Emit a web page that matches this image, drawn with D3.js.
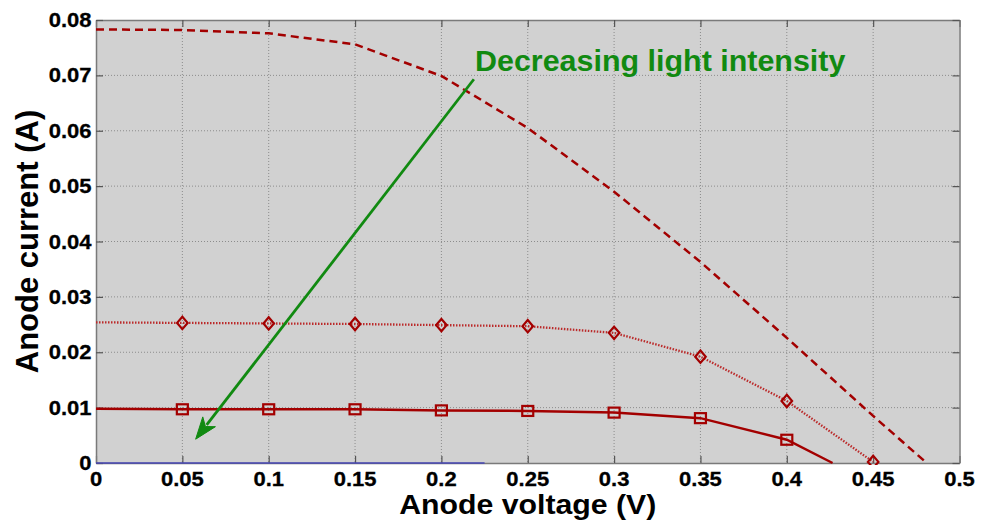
<!DOCTYPE html>
<html>
<head>
<meta charset="utf-8">
<script src="https://cdn.jsdelivr.net/npm/d3@7"></script>
<style>
  html, body { margin: 0; padding: 0; background: #fff; }
  svg { display: block; }
  text { font-family: "Liberation Sans", Arial, sans-serif; font-weight: bold; }
</style>
</head>
<body>
<svg id="chart" width="981" height="524"></svg>
<script>
// ---- data ----
const xTicks = [0, 0.05, 0.1, 0.15, 0.2, 0.25, 0.3, 0.35, 0.4, 0.45, 0.5];
const xTickLabels = ["0", "0.05", "0.1", "0.15", "0.2", "0.25", "0.3", "0.35", "0.4", "0.45", "0.5"];
const yTicks = [0, 0.01, 0.02, 0.03, 0.04, 0.05, 0.06, 0.07, 0.08];
const yTickLabels = ["0", "0.01", "0.02", "0.03", "0.04", "0.05", "0.06", "0.07", "0.08"];

const dashedX = [0, 0.05, 0.1, 0.15, 0.2, 0.25, 0.3, 0.35, 0.4, 0.45, 0.481];
const dashedY = [0.0783, 0.0782, 0.0776, 0.0756, 0.0699, 0.0605, 0.0490, 0.0363, 0.0226, 0.0085, 0];

const diamondX = [0, 0.05, 0.1, 0.15, 0.2, 0.25, 0.3, 0.35, 0.4, 0.45];
const diamondY = [0.0254, 0.0253, 0.0252, 0.0251, 0.0249, 0.0247, 0.0235, 0.0192, 0.0112, 0.0002];
const diamondMarkerX = [0.05, 0.1, 0.15, 0.2, 0.25, 0.3, 0.35, 0.4, 0.45];

const squareX = [0, 0.05, 0.1, 0.15, 0.2, 0.25, 0.3, 0.35, 0.4, 0.4265];
const squareY = [0.0098, 0.0097, 0.0097, 0.0097, 0.0095, 0.0094, 0.0091, 0.0081, 0.0042, 0];
const squareMarkerX = [0.05, 0.1, 0.15, 0.2, 0.25, 0.3, 0.35, 0.4];

const blueX = [0, 0.225];
const blueY = [0, 0];

const arrowFrom = [0.2188, 0.0693];
const arrowTo = [0.0577, 0.0043];
const annotationText = "Decreasing light intensity";
const xTitle = "Anode voltage (V)";
const yTitle = "Anode current (A)";

// ---- layout ----
const svg = d3.select("#chart");
const L = 96, R = 959.5, T = 20, B = 463;
const x = d3.scaleLinear().domain([0, 0.5]).range([L, R]);
const y = d3.scaleLinear().domain([0, 0.08]).range([B, T]);

svg.append("rect").attr("x", 0).attr("y", 0).attr("width", 981).attr("height", 524).attr("fill", "#fff");
svg.append("rect").attr("x", L).attr("y", T).attr("width", R - L).attr("height", B - T).attr("fill", "#d1d1d1");

// gridlines
const grid = svg.append("g").attr("stroke", "#8c8c8c").attr("stroke-width", 1).attr("stroke-dasharray", "1,2");
grid.selectAll("line.gx").data(xTicks.slice(1, -1)).join("line")
  .attr("x1", d => x(d)).attr("x2", d => x(d)).attr("y1", T).attr("y2", B);
grid.selectAll("line.gy").data(yTicks.slice(1, -1)).join("line")
  .attr("y1", d => y(d)).attr("y2", d => y(d)).attr("x1", L).attr("x2", R);

// axes (inward ticks, box)
const tickLen = 7;
const gB = svg.append("g").attr("transform", `translate(0,${B})`)
  .call(d3.axisBottom(x).tickValues(xTicks).tickSizeInner(-tickLen).tickSizeOuter(0).tickFormat(""));
const gT = svg.append("g").attr("transform", `translate(0,${T})`)
  .call(d3.axisTop(x).tickValues(xTicks).tickSizeInner(-tickLen).tickSizeOuter(0).tickFormat(""));
const gL = svg.append("g").attr("transform", `translate(${L},0)`)
  .call(d3.axisLeft(y).tickValues(yTicks).tickSizeInner(-tickLen).tickSizeOuter(0).tickFormat(""));
const gR = svg.append("g").attr("transform", `translate(${R},0)`)
  .call(d3.axisRight(y).tickValues(yTicks).tickSizeInner(-tickLen).tickSizeOuter(0).tickFormat(""));
[gB, gT, gL, gR].forEach(g => {
  g.select(".domain").attr("stroke", "#7a7a7a").attr("stroke-width", 1.5);
  g.selectAll(".tick line").attr("stroke", "#555").attr("stroke-width", 1.2);
});

// tick labels
const tickFont = 20, sx = 1.1;
svg.append("g").selectAll("text").data(xTicks).join("text")
  .attr("transform", d => `translate(${x(d)},486) scale(${sx},1)`)
  .attr("text-anchor", "middle").attr("font-size", tickFont).attr("fill", "#000")
  .attr("stroke", "#000").attr("stroke-width", 0.3)
  .text((d, i) => xTickLabels[i]);
svg.append("g").selectAll("text").data(yTicks).join("text")
  .attr("transform", d => `translate(91.5,${y(d) + 7}) scale(${sx},1)`)
  .attr("text-anchor", "end").attr("font-size", tickFont).attr("fill", "#000")
  .attr("stroke", "#000").attr("stroke-width", 0.3)
  .text((d, i) => yTickLabels[i]);

// axis titles
svg.append("text")
  .attr("transform", `translate(${(L + R) / 2},514) scale(1.1,1)`)
  .attr("text-anchor", "middle").attr("font-size", 27.5).attr("fill", "#000")
  .text(xTitle);
svg.append("text")
  .attr("transform", `translate(38,${(T + B) / 2}) rotate(-90)`)
  .attr("text-anchor", "middle").attr("font-size", 31).attr("fill", "#000")
  .text(yTitle);

// series
const dark = "#a30000";
const line = d3.line().x(d => x(d[0])).y(d => y(d[1]));
const clip = svg.append("clipPath").attr("id", "clip").append("rect")
  .attr("x", L).attr("y", T - 10).attr("width", R - L).attr("height", B - T + 12);
const plot = svg.append("g").attr("clip-path", "url(#clip)");

plot.append("path").datum(blueX.map((v, i) => [v, blueY[i]]))
  .attr("d", line).attr("fill", "none").attr("stroke", "#4646b4").attr("stroke-width", 1.5);

plot.append("path").datum(dashedX.map((v, i) => [v, dashedY[i]]))
  .attr("d", line).attr("fill", "none").attr("stroke", dark).attr("stroke-width", 2.5)
  .attr("stroke-dasharray", "8,5");

plot.append("path").datum(diamondX.map((v, i) => [v, diamondY[i]]))
  .attr("d", line).attr("fill", "none").attr("stroke", "#bb2a2a").attr("stroke-width", 2.3)
  .attr("stroke-dasharray", "1.5,1.5");

plot.append("path").datum(squareX.map((v, i) => [v, squareY[i]]))
  .attr("d", line).attr("fill", "none").attr("stroke", dark).attr("stroke-width", 2.5);

// markers
const diamondPts = diamondMarkerX.map(v => [v, diamondY[diamondX.indexOf(v)]]);
plot.selectAll("path.dm").data(diamondPts).join("path").attr("class", "dm")
  .attr("d", d => { const cx = x(d[0]), cy = y(d[1]), r = 6.2; return `M${cx},${cy - r}L${cx + r * 0.85},${cy}L${cx},${cy + r}L${cx - r * 0.85},${cy}Z`; })
  .attr("fill", "none").attr("stroke", dark).attr("stroke-width", 2.2);

const squarePts = squareMarkerX.map(v => [v, squareY[squareX.indexOf(v)]]);
plot.selectAll("rect.sq").data(squarePts).join("rect").attr("class", "sq")
  .attr("x", d => x(d[0]) - 5.5).attr("y", d => y(d[1]) - 5).attr("width", 11).attr("height", 10)
  .attr("fill", "none").attr("stroke", dark).attr("stroke-width", 2.2);

// annotation arrow
const green = "#118a11";
const ax1 = x(arrowFrom[0]), ay1 = y(arrowFrom[1]), ax2 = x(arrowTo[0]), ay2 = y(arrowTo[1]);
const ang = Math.atan2(ay2 - ay1, ax2 - ax1);
const hl = 22, hw = 8;
const bx = ax2 - hl * Math.cos(ang), by = ay2 - hl * Math.sin(ang);
svg.append("line").attr("x1", ax1).attr("y1", ay1).attr("x2", bx + 4 * Math.cos(ang)).attr("y2", by + 4 * Math.sin(ang))
  .attr("stroke", green).attr("stroke-width", 2.8);
const nx = -Math.sin(ang), ny = Math.cos(ang);
svg.append("path")
  .attr("d", `M${ax2},${ay2}L${bx + hw * nx},${by + hw * ny}L${bx + 6 * Math.cos(ang)},${by + 6 * Math.sin(ang)}L${bx - hw * nx},${by - hw * ny}Z`)
  .attr("fill", green).attr("stroke", green).attr("stroke-width", 1);

svg.append("text")
  .attr("transform", `translate(475,70.5) scale(1.05,1)`)
  .attr("font-size", 29).attr("fill", green)
  .text(annotationText);
</script>
</body>
</html>
